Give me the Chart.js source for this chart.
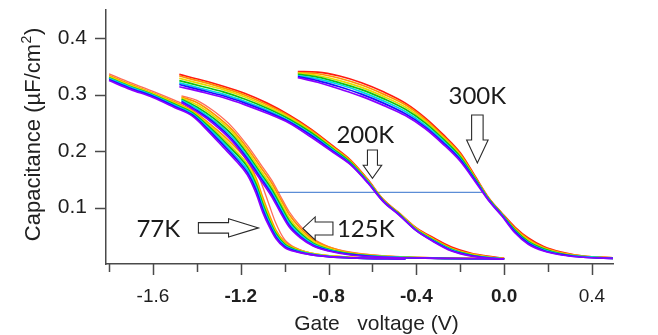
<!DOCTYPE html>
<html><head><meta charset="utf-8">
<script src="https://cdn.jsdelivr.net/npm/chart.js@4/dist/chart.umd.min.js"></script>
<style>html,body{margin:0;padding:0;background:#fff}#wrap{width:658px;height:335px;position:relative}</style>
</head><body><div id="wrap"><canvas id="c"></canvas></div>
<script>
// ---- data (gate voltage V, capacitance uF/cm2) ----
const v77 = [-1.80,-1.70,-1.60,-1.50,-1.42,-1.35,-1.28,-1.22,-1.17,-1.13,-1.10,-1.07,-1.04,-1.00,-0.94,-0.85,-0.70,-0.45];
const c77Violet = [0.325,0.309,0.295,0.277,0.262,0.236,0.207,0.182,0.158,0.125,0.092,0.066,0.045,0.029,0.021,0.015,0.011,0.009];
const c77Blue   = [0.327,0.311,0.297,0.279,0.264,0.239,0.211,0.186,0.162,0.131,0.097,0.070,0.048,0.031,0.022,0.015,0.011,0.009];
const c77Cyan   = [0.329,0.313,0.299,0.281,0.266,0.242,0.215,0.190,0.167,0.136,0.102,0.074,0.051,0.033,0.023,0.016,0.011,0.009];
const c77Green  = [0.330,0.314,0.300,0.283,0.268,0.245,0.219,0.195,0.172,0.141,0.107,0.078,0.054,0.035,0.024,0.016,0.011,0.009];
const c77Yellow = [0.332,0.316,0.302,0.285,0.270,0.248,0.223,0.199,0.177,0.146,0.112,0.082,0.057,0.037,0.025,0.017,0.012,0.009];
const c77Orange = [0.334,0.318,0.303,0.287,0.272,0.251,0.228,0.205,0.183,0.152,0.118,0.087,0.060,0.039,0.026,0.017,0.012,0.010];
const c77Red    = [0.337,0.321,0.306,0.290,0.276,0.260,0.243,0.222,0.196,0.166,0.137,0.104,0.072,0.043,0.027,0.017,0.012,0.010];

const v125 = [-1.47,-1.40,-1.32,-1.24,-1.17,-1.11,-1.06,-1.02,-0.98,-0.93,-0.87,-0.80,-0.70,-0.55,-0.30,0.00];
const c125Violet = [0.286,0.270,0.247,0.218,0.183,0.149,0.120,0.092,0.066,0.047,0.032,0.023,0.016,0.012,0.010,0.009];
const c125Blue   = [0.288,0.272,0.250,0.221,0.187,0.153,0.124,0.096,0.069,0.049,0.033,0.024,0.017,0.012,0.010,0.009];
const c125Cyan   = [0.290,0.275,0.253,0.225,0.191,0.157,0.128,0.100,0.073,0.052,0.035,0.025,0.017,0.013,0.010,0.009];
const c125Green  = [0.292,0.278,0.257,0.229,0.195,0.161,0.133,0.105,0.077,0.055,0.037,0.026,0.018,0.013,0.010,0.009];
const c125Yellow = [0.294,0.282,0.261,0.234,0.200,0.166,0.138,0.110,0.082,0.059,0.040,0.028,0.019,0.014,0.010,0.009];
const c125Orange = [0.296,0.286,0.265,0.238,0.205,0.172,0.144,0.116,0.088,0.064,0.043,0.030,0.020,0.014,0.011,0.009];
const c125Red    = [0.298,0.290,0.270,0.243,0.210,0.177,0.149,0.121,0.093,0.068,0.045,0.031,0.021,0.015,0.011,0.010];

const v200 = [-1.48,-1.38,-1.28,-1.18,-1.08,-0.98,-0.88,-0.78,-0.70,-0.62,-0.55,-0.48,-0.40,-0.32,-0.24,-0.15,-0.06,0.00];
const c200Violet = [0.314,0.305,0.295,0.282,0.267,0.250,0.225,0.198,0.176,0.143,0.110,0.087,0.059,0.039,0.023,0.014,0.010,0.009];
const c200Blue   = [0.318,0.308,0.298,0.285,0.270,0.252,0.228,0.200,0.177,0.144,0.111,0.088,0.059,0.040,0.024,0.015,0.010,0.009];
const c200Cyan   = [0.321,0.311,0.301,0.288,0.273,0.254,0.230,0.202,0.178,0.145,0.111,0.088,0.060,0.041,0.025,0.015,0.011,0.009];
const c200Green  = [0.325,0.315,0.305,0.292,0.276,0.257,0.233,0.204,0.180,0.146,0.112,0.089,0.061,0.042,0.026,0.016,0.011,0.009];
const c200Yellow = [0.329,0.319,0.309,0.296,0.279,0.260,0.235,0.206,0.181,0.147,0.113,0.090,0.062,0.043,0.027,0.017,0.012,0.009];
const c200Orange = [0.333,0.323,0.312,0.299,0.282,0.262,0.237,0.207,0.183,0.148,0.113,0.090,0.063,0.044,0.028,0.018,0.012,0.010];
const c200Red    = [0.336,0.326,0.315,0.302,0.285,0.264,0.239,0.209,0.184,0.149,0.114,0.091,0.064,0.046,0.030,0.019,0.013,0.010];

const v300 = [-0.94,-0.85,-0.75,-0.65,-0.55,-0.45,-0.36,-0.28,-0.20,-0.13,-0.07,-0.01,0.05,0.11,0.18,0.26,0.36,0.50];
const c300Violet = [0.330,0.322,0.310,0.297,0.281,0.263,0.240,0.213,0.182,0.145,0.112,0.085,0.055,0.035,0.023,0.016,0.012,0.010];
const c300Blue   = [0.332,0.325,0.314,0.301,0.285,0.266,0.243,0.216,0.185,0.147,0.113,0.086,0.057,0.037,0.024,0.017,0.012,0.010];
const c300Cyan   = [0.334,0.328,0.318,0.305,0.289,0.270,0.246,0.219,0.187,0.148,0.114,0.087,0.058,0.038,0.025,0.017,0.013,0.010];
const c300Green  = [0.336,0.331,0.321,0.309,0.293,0.274,0.250,0.222,0.190,0.150,0.115,0.088,0.060,0.040,0.027,0.018,0.013,0.010];
const c300Yellow = [0.338,0.334,0.325,0.313,0.297,0.278,0.253,0.225,0.192,0.151,0.115,0.088,0.061,0.042,0.028,0.019,0.013,0.010];
const c300Orange = [0.339,0.337,0.329,0.317,0.301,0.282,0.256,0.227,0.195,0.152,0.116,0.089,0.063,0.044,0.029,0.020,0.014,0.011];
const c300Red    = [0.341,0.340,0.333,0.321,0.305,0.285,0.259,0.230,0.197,0.154,0.117,0.090,0.065,0.046,0.031,0.021,0.014,0.011];

// reference level line
const refV = [-1.04, -0.095];
const refC = [0.127, 0.127];

// axis ticks
const xLabelValues = [-1.6, -1.2, -0.8, -0.4, 0.0, 0.4];
const xTickLabels  = ['-1.6', '-1.2', '-0.8', '-0.4', '0.0', '0.4'];
const xBoldLabels  = ['-1.2', '-0.8', '-0.4', '0.0'];
const xMinorValues = [-1.8, -1.4, -1.0, -0.6, -0.2, 0.2];
const yLabelValues = [0.1, 0.2, 0.3, 0.4];
const yTickLabels  = ['0.1', '0.2', '0.3', '0.4'];

// annotations (data coordinates)
const tempLabels = ['300K', '200K', '125K', '77K'];
const tempLabelV = [-0.122, -0.633, -0.762, -1.476];
const tempLabelC = [0.2835, 0.2139, 0.0473, 0.0473];
const tempLabelAlign = ['center', 'center', 'left', 'right'];
const arrowTipV  = [-0.122, -0.600, -0.917, -1.119];
const arrowTipC  = [0.179, 0.152, 0.063, 0.064];
const arrowTailV = [-0.122, -0.600, -0.780, -1.393];
const arrowTailC = [0.264, 0.202, 0.063, 0.064];

// ---- styles ----
const curveColors = ['#8a00ff', '#1414ff', '#00d4e6', '#10c010', '#e6dc00', '#ff9200', '#ff1a10'];
const arrowShaftW = [11.5, 10, 13, 10.5];
const arrowHeadW  = [21.5, 18.5, 23, 18.5];
const arrowHeadL  = [23, 13, 12.3, 30];
const axisColor = '#4a4a4a';
const tickFont = "'Liberation Sans', Arial, sans-serif";

const familyX = [v77, v125, v200, v300];
const familyC = [
  [c77Violet, c77Blue, c77Cyan, c77Green, c77Yellow, c77Orange, c77Red],
  [c125Violet, c125Blue, c125Cyan, c125Green, c125Yellow, c125Orange, c125Red],
  [c200Violet, c200Blue, c200Cyan, c200Green, c200Yellow, c200Orange, c200Red],
  [c300Violet, c300Blue, c300Cyan, c300Green, c300Yellow, c300Orange, c300Red]
];

const datasets = [];
familyX.forEach((xs, f) => {
  familyC[f].forEach((cs, k) => {
    const thinRed = (k === 6 && f <= 1);
    datasets.push({
      data: xs.map((x, j) => ({x: x, y: cs[j]})),
      borderColor: thinRed ? 'rgba(255,70,50,0.8)' : curveColors[k],
      borderWidth: thinRed ? 1.3 : 1.7,
      pointRadius: 0,
      fill: false,
      cubicInterpolationMode: 'monotone',
      order: k
    });
  });
});
datasets.push({
  data: refV.map((x, j) => ({x: x, y: refC[j]})),
  borderColor: '#5b8dd6', borderWidth: 1.2, pointRadius: 0, fill: false, order: 20
});

function drawArrow(ctx, tx, ty, sx, sy, shaftW, headW, headL) {
  const dx = tx - sx, dy = ty - sy, len = Math.hypot(dx, dy);
  const ux = dx / len, uy = dy / len, nx = -uy, ny = ux;
  const bx = tx - ux * headL, by = ty - uy * headL;
  const s = shaftW / 2, h = headW / 2;
  ctx.beginPath();
  ctx.moveTo(sx + nx * s, sy + ny * s);
  ctx.lineTo(bx + nx * s, by + ny * s);
  ctx.lineTo(bx + nx * h, by + ny * h);
  ctx.lineTo(tx, ty);
  ctx.lineTo(bx - nx * h, by - ny * h);
  ctx.lineTo(bx - nx * s, by - ny * s);
  ctx.lineTo(sx - nx * s, sy - ny * s);
  ctx.closePath();
  ctx.fillStyle = '#fff';
  ctx.fill();
  ctx.strokeStyle = '#2a2a2a';
  ctx.lineWidth = 1.1;
  ctx.stroke();
}

const decor = {
  id: 'decor',
  afterDraw(chart) {
    const {ctx, chartArea: a, scales: {x, y}} = chart;
    ctx.save();
    ctx.strokeStyle = axisColor;
    ctx.lineWidth = 1.5;
    ctx.beginPath();
    yLabelValues.forEach(v => {
      const py = Math.round(y.getPixelForValue(v)) + 0.5;
      ctx.moveTo(a.left - 11, py); ctx.lineTo(a.left, py);
    });
    xLabelValues.forEach(v => {
      const px = Math.round(x.getPixelForValue(v)) + 0.5;
      ctx.moveTo(px, a.bottom); ctx.lineTo(px, a.bottom + 11);
    });
    xMinorValues.forEach(v => {
      const px = Math.round(x.getPixelForValue(v)) + 0.5;
      ctx.moveTo(px, a.bottom); ctx.lineTo(px, a.bottom + 8);
    });
    ctx.stroke();

    // axis titles
    ctx.fillStyle = '#222';
    ctx.textBaseline = 'alphabetic';
    ctx.font = "21px " + tickFont;
    ctx.textAlign = 'center';
    ctx.fillText('Gate   voltage (V)', (a.left + a.right) / 2 + 17, 330);

    ctx.save();
    ctx.translate(40, (a.top + a.bottom) / 2 - 2);
    ctx.rotate(-Math.PI / 2);
    const mainF = "22px " + tickFont, supF = "14px " + tickFont;
    const t1 = 'Capacitance (\u00B5F/cm', t2 = '2', t3 = ')';
    ctx.font = mainF; const w1 = ctx.measureText(t1).width, w3 = ctx.measureText(t3).width;
    ctx.font = supF; const w2 = ctx.measureText(t2).width;
    let sx = -(w1 + w2 + w3) / 2;
    ctx.textAlign = 'left';
    ctx.font = mainF; ctx.fillText(t1, sx, 0); sx += w1;
    ctx.font = supF; ctx.fillText(t2, sx + 0.5, -9); sx += w2 + 1;
    ctx.font = mainF; ctx.fillText(t3, sx, 0);
    ctx.restore();

    // annotations
    tempLabels.forEach((t, i) => {
      drawArrow(ctx,
        x.getPixelForValue(arrowTipV[i]), y.getPixelForValue(arrowTipC[i]),
        x.getPixelForValue(arrowTailV[i]), y.getPixelForValue(arrowTailC[i]),
        arrowShaftW[i], arrowHeadW[i], arrowHeadL[i]);
      ctx.fillStyle = '#1a1a1a';
      ctx.font = "24px Lato, 'Open Sans', sans-serif";
      ctx.textAlign = tempLabelAlign[i];
      ctx.textBaseline = 'alphabetic';
      ctx.fillText(t, x.getPixelForValue(tempLabelV[i]), y.getPixelForValue(tempLabelC[i]));
    });
    ctx.restore();
  }
};

new Chart(document.getElementById('c'), {
  type: 'line',
  data: {datasets: datasets},
  options: {
    responsive: true,
    maintainAspectRatio: false,
    animation: false,
    layout: {padding: {top: 10, right: 45, bottom: 0, left: 0}},
    plugins: {legend: {display: false}, tooltip: {enabled: false}, title: {display: false}},
    scales: {
      x: {
        type: 'linear', min: -1.814, max: 0.496,
        grid: {display: false, drawTicks: false},
        border: {display: true, color: axisColor, width: 1.5},
        afterBuildTicks: (s) => { s.ticks = xLabelValues.map(v => ({value: v})); },
        afterFit: (s) => { s.height = 71; s.paddingLeft = 0; s.paddingRight = 0; },
        ticks: {
          autoSkip: false, maxRotation: 0, padding: 21, color: '#1e1e1e',
          callback: (v, i) => xTickLabels[i],
          font: (c) => ({family: tickFont, size: 19,
            weight: (c.tick && xBoldLabels.includes(xTickLabels[c.index])) ? 'bold' : 'normal'})
        }
      },
      y: {
        type: 'linear', min: 0, max: 0.45,
        grid: {display: false, drawTicks: false},
        border: {display: true, color: axisColor, width: 1.5},
        afterBuildTicks: (s) => { s.ticks = yLabelValues.map(v => ({value: v})); },
        afterFit: (s) => { s.width = 106; s.paddingTop = 0; s.paddingBottom = 0; },
        ticks: {
          autoSkip: false, padding: 19, color: '#1e1e1e',
          callback: (v, i) => yTickLabels[i],
          font: {family: tickFont, size: 21}
        }
      }
    }
  },
  plugins: [decor]
});
</script>
</body></html>
